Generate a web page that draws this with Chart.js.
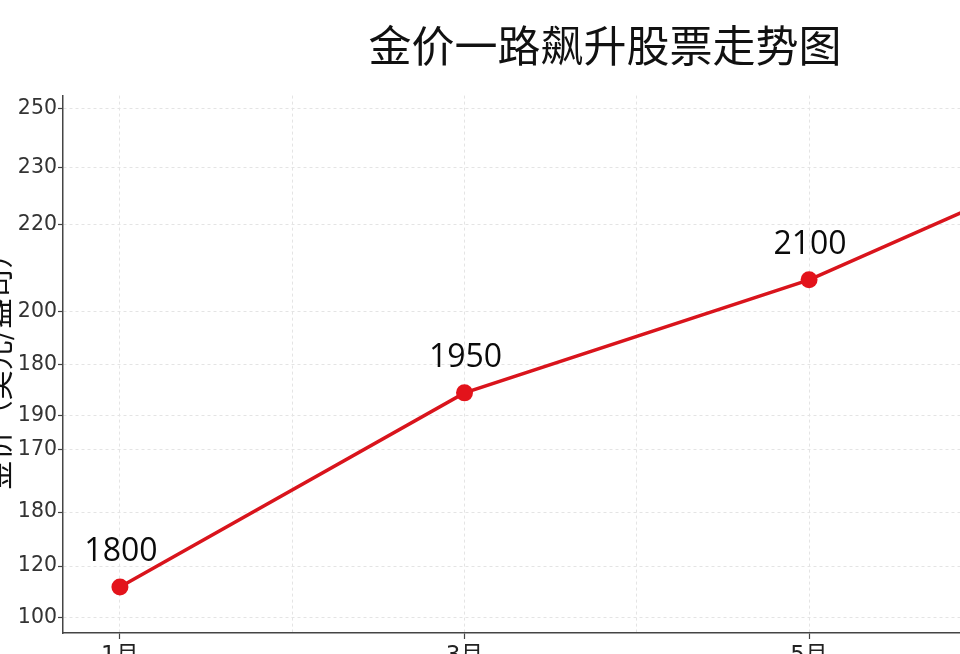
<!DOCTYPE html>
<html>
<head>
<meta charset="utf-8">
<script src="https://cdn.jsdelivr.net/npm/chart.js@4.4.1/dist/chart.umd.min.js"></script>
<style>
html, body { margin: 0; padding: 0; background: #fff; overflow: hidden; }
#wrap { position: relative; width: 960px; height: 654px; overflow: hidden; background: #fff; }
#c { position: absolute; left: -20px; top: 0; }
</style>
</head>
<body>
<div id="wrap"><canvas id="c" width="1250" height="690"></canvas></div>
<script>
// ---- data ----
const titleText = '金价一路飙升股票走势图';
const yAxisTitle = '金价（美元/盎司）';
const months = [1, 3, 5, 7];
const monthTicks = [1, 2, 3, 4, 5, 6, 7];
const priceLabels = ['1800', '1950', '2100', '2250'];
const plotValues = [109.1, 166.3, 199.6, 244.4];
const yTickValues = [100, 115.3, 131.2, 149.5, 159.5, 174.6, 190.2, 215.8, 232.6, 250];
const yTickLabels = ['100', '120', '180', '170', '190', '180', '200', '220', '230', '250'];

const pointData = months.map((m, i) => ({ x: m, y: plotValues[i] }));

const valueLabelPlugin = {
  id: 'valueLabels',
  afterDatasetsDraw(chart) {
    const meta = chart.getDatasetMeta(0);
    const ctx = chart.ctx;
    ctx.save();
    ctx.font = '32px "Open Sans", "Liberation Sans", sans-serif';
    ctx.fillStyle = '#0a0a0a';
    ctx.textAlign = 'center';
    ctx.textBaseline = 'alphabetic';
    meta.data.forEach((pt, i) => {
      ctx.fillText(priceLabels[i], pt.x + 1, pt.y - 26);
    });
    ctx.restore();
  }
};

new Chart(document.getElementById('c'), {
  type: 'line',
  data: {
    datasets: [{
      data: pointData,
      borderColor: '#d9141c',
      borderWidth: 3.5,
      backgroundColor: '#e3131b',
      pointBackgroundColor: '#e3131b',
      pointBorderColor: '#e3131b',
      pointRadius: 8.5,
      pointBorderWidth: 0,
      tension: 0,
      fill: false
    }]
  },
  options: {
    responsive: false,
    animation: false,
    devicePixelRatio: 1,
    layout: { padding: 0 },
    plugins: {
      legend: { display: false },
      tooltip: { enabled: false },
      title: {
        display: true,
        text: titleText,
        color: '#111',
        font: { family: '"Noto Sans CJK SC", sans-serif', size: 43, weight: 'normal' },
        padding: { top: 20, bottom: 24 }
      }
    },
    scales: {
      x: {
        type: 'linear',
        min: 0.6696,
        max: 7.394,
        afterBuildTicks: (axis) => { axis.ticks = monthTicks.map(v => ({ value: v })); },
        afterFit: (s) => { s.height = 57; },
        ticks: {
          autoSkip: false,
          maxRotation: 0,
          padding: 3,
          color: '#222',
          font: { family: '"DejaVu Sans", "Noto Sans CJK SC", sans-serif', size: 23 },
          callback: (v) => (v % 2 === 1 ? v + '月' : '')
        },
        grid: {
          color: '#e4e4e4',
          lineWidth: 1,
          tickLength: 6,
          tickColor: (ctx) => (ctx.tick && ctx.tick.value % 2 === 1 ? '#444' : 'rgba(0,0,0,0)'),
          tickWidth: 1.2
        },
        border: { display: true, color: '#444', width: 1.5, dash: [3, 3] }
      },
      y: {
        type: 'linear',
        min: 95.58,
        max: 253.85,
        afterBuildTicks: (axis) => { axis.ticks = yTickValues.map(v => ({ value: v })); },
        afterFit: (s) => { s.width = 83; },
        ticks: {
          autoSkip: false,
          padding: 1,
          color: '#333',
          font: { family: '"DejaVu Sans", sans-serif', size: 20.5 },
          callback: (v, i) => yTickLabels[i]
        },
        grid: {
          color: '#e4e4e4',
          lineWidth: 1,
          tickLength: 5,
          tickColor: '#444',
          tickWidth: 1.2
        },
        border: { display: true, color: '#444', width: 1.5, dash: [3, 3] },
        title: {
          display: true,
          text: yAxisTitle,
          color: '#111',
          font: { family: '"Noto Sans CJK SC", sans-serif', size: 30 },
          padding: { top: 0, bottom: 0 }
        }
      }
    }
  },
  plugins: [valueLabelPlugin]
});
</script>
</body>
</html>
